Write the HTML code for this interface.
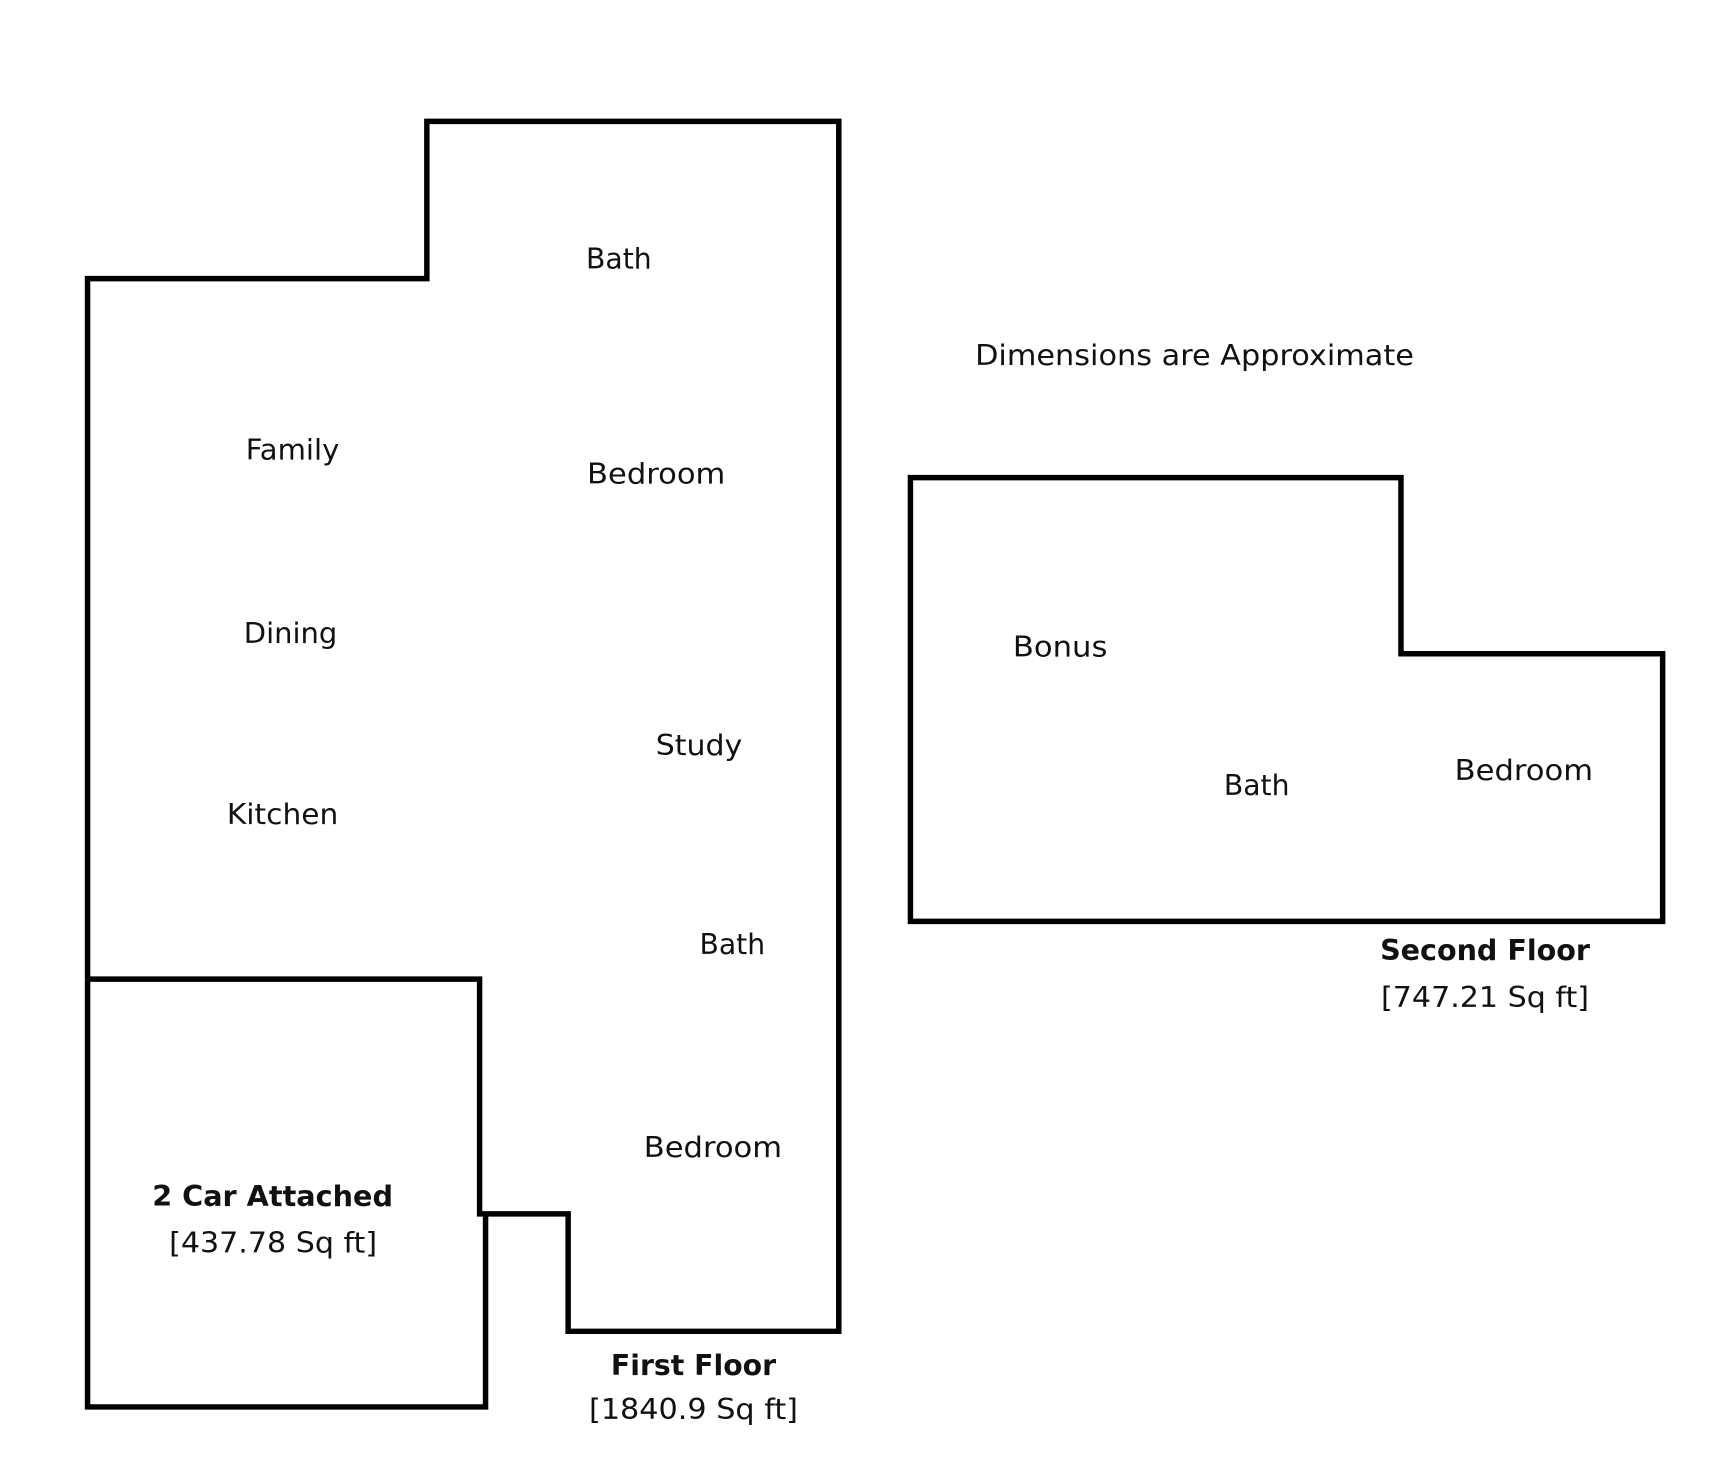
<!DOCTYPE html>
<html><head><meta charset="utf-8"><style>
html,body{margin:0;padding:0;background:#fff;}
svg{display:block;}
text{font-family:"DejaVu Sans","Liberation Sans",sans-serif;font-size:29px;fill:#111;}
.b{font-weight:bold;}
</style></head><body>
<svg width="1719" height="1475" viewBox="0 0 1719 1475" xmlns="http://www.w3.org/2000/svg">
<g transform="scale(0.995)">
<g fill="none" stroke="#000" stroke-width="5.5" stroke-linejoin="miter">
<polyline points="88,984 88,280 429,280 429,122 843,122 843,1338 571,1338 571,1220 482,1220 482,984 88,984"/>
<polyline points="88,984 88,1414 488,1414 488,1220"/>
<polygon points="915,480 1408,480 1408,657 1671,657 1671,926 915,926"/>
</g>
<text x="589" y="270" textLength="66" lengthAdjust="spacingAndGlyphs">Bath</text>
<text x="247" y="462" textLength="94" lengthAdjust="spacingAndGlyphs">Family</text>
<text x="590" y="486" textLength="139" lengthAdjust="spacingAndGlyphs">Bedroom</text>
<text x="245" y="646" textLength="94" lengthAdjust="spacingAndGlyphs">Dining</text>
<text x="659" y="759" textLength="87" lengthAdjust="spacingAndGlyphs">Study</text>
<text x="228" y="828" textLength="112" lengthAdjust="spacingAndGlyphs">Kitchen</text>
<text x="703" y="959" textLength="66" lengthAdjust="spacingAndGlyphs">Bath</text>
<text x="647" y="1163" textLength="139" lengthAdjust="spacingAndGlyphs">Bedroom</text>
<text class="b" x="153" y="1212" textLength="242" lengthAdjust="spacingAndGlyphs">2 Car Attached</text>
<text x="170" y="1259" textLength="209" lengthAdjust="spacingAndGlyphs">[437.78 Sq ft]</text>
<text class="b" x="614" y="1382" textLength="166" lengthAdjust="spacingAndGlyphs">First Floor</text>
<text x="592" y="1426" textLength="210" lengthAdjust="spacingAndGlyphs">[1840.9 Sq ft]</text>
<text x="980" y="367" textLength="441" lengthAdjust="spacingAndGlyphs">Dimensions are Approximate</text>
<text x="1018" y="660" textLength="95" lengthAdjust="spacingAndGlyphs">Bonus</text>
<text x="1230" y="799" textLength="66" lengthAdjust="spacingAndGlyphs">Bath</text>
<text x="1462" y="784" textLength="139" lengthAdjust="spacingAndGlyphs">Bedroom</text>
<text class="b" x="1387" y="965" textLength="211" lengthAdjust="spacingAndGlyphs">Second Floor</text>
<text x="1388" y="1012" textLength="209" lengthAdjust="spacingAndGlyphs">[747.21 Sq ft]</text>
</g>
</svg>
</body></html>
